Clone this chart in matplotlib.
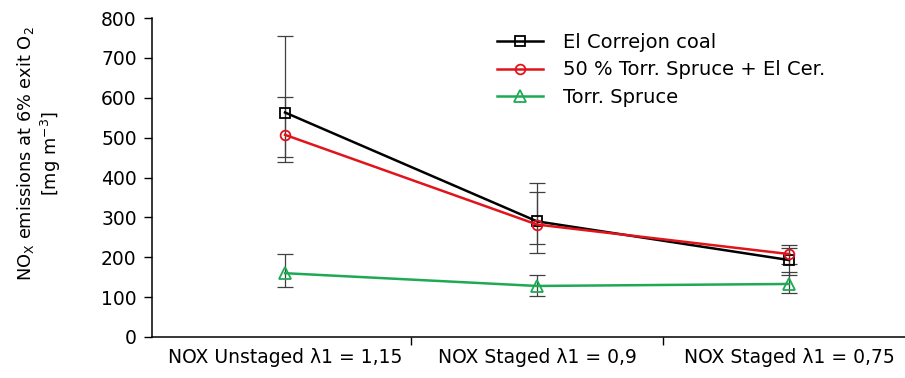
import matplotlib
matplotlib.use("Agg")
import matplotlib.pyplot as plt
import numpy as np

categories = ["NOX Unstaged λ1 = 1,15", "NOX Staged λ1 = 0,9", "NOX Staged λ1 = 0,75"]
series_names = ["El Correjon coal", "50 % Torr. Spruce + El Cer.", "Torr. Spruce"]

coal = [563, 290, 193]
coal_low = [440, 210, 155]
coal_high = [755, 387, 230]

blend = [507, 282, 208]
blend_low = [452, 233, 183]
blend_high = [602, 363, 223]

spruce = [160, 128, 133]
spruce_low = [125, 103, 110]
spruce_high = [207, 155, 164]

yticks = [0, 100, 200, 300, 400, 500, 600, 700, 800]

plt.rcParams['font.family'] = ['DejaVu Sans']

fig = plt.figure(figsize=(9.05, 3.78), dpi=100)
x_left, x_right = -0.528, 2.5
px_per_unit = 252
ax_w_px = (x_right - x_left) * px_per_unit
ax = fig.add_axes([152/905, 1 - 337/378, ax_w_px / 905, (337 - 18)/378])

x = np.arange(len(categories))
styles = [
    (coal, coal_low, coal_high, 'black', 's'),
    (blend, blend_low, blend_high, '#e2141b', 'o'),
    (spruce, spruce_low, spruce_high, '#1fa955', '^'),
]
for (vals, lo, hi, col, mk), name in zip(styles, series_names):
    vals = np.array(vals); lo = np.array(lo); hi = np.array(hi)
    ax.errorbar(x, vals, yerr=[vals - lo, hi - vals], fmt='none', ecolor='#404040',
                elinewidth=0.9, capsize=6, capthick=0.9, zorder=2)
    ax.plot(x, vals, color=col, lw=1.8, marker=mk, markersize=8.5 if mk == '^' else 7,
            markerfacecolor='none', markeredgecolor=col, markeredgewidth=1.3,
            label=name, zorder=3)

ax.set_xlim(x_left, x_right)
ax.set_ylim(0, 800)
ax.set_yticks(yticks)
ax.set_yticklabels([str(v) for v in yticks], fontsize=13.5)
ax.set_xticks([0.5, 1.5])
ax.set_xticklabels([])
ax.set_xticks(x, minor=True)
ax.set_xticklabels(categories, minor=True, fontsize=13.5)
ax.tick_params(axis='x', which='minor', length=0, pad=8)
ax.tick_params(axis='x', which='major', direction='out', length=6, width=1)
ax.tick_params(axis='y', direction='out', length=6, width=1, pad=5)
for s in ['top', 'right']:
    ax.spines[s].set_visible(False)
ax.spines['left'].set_linewidth(1.1)
ax.spines['bottom'].set_linewidth(1.1)

ax.set_ylabel("NO$_\\mathregular{X}$ emissions at 6% exit O$_\\mathregular{2}$\n[mg m$^\\mathregular{-3}$]",
              fontsize=12.8, linespacing=1.15)
ax.yaxis.set_label_coords((63 - 152) / ax_w_px, 0.575)

leg = ax.legend(loc='upper left', bbox_to_anchor=((497 - 152 - 14) / ax_w_px, 0.995), frameon=False,
                fontsize=14, handlelength=2.4, labelspacing=0.42, handletextpad=1.0, borderpad=0.2)

fig.savefig("out.png", dpi=100)
